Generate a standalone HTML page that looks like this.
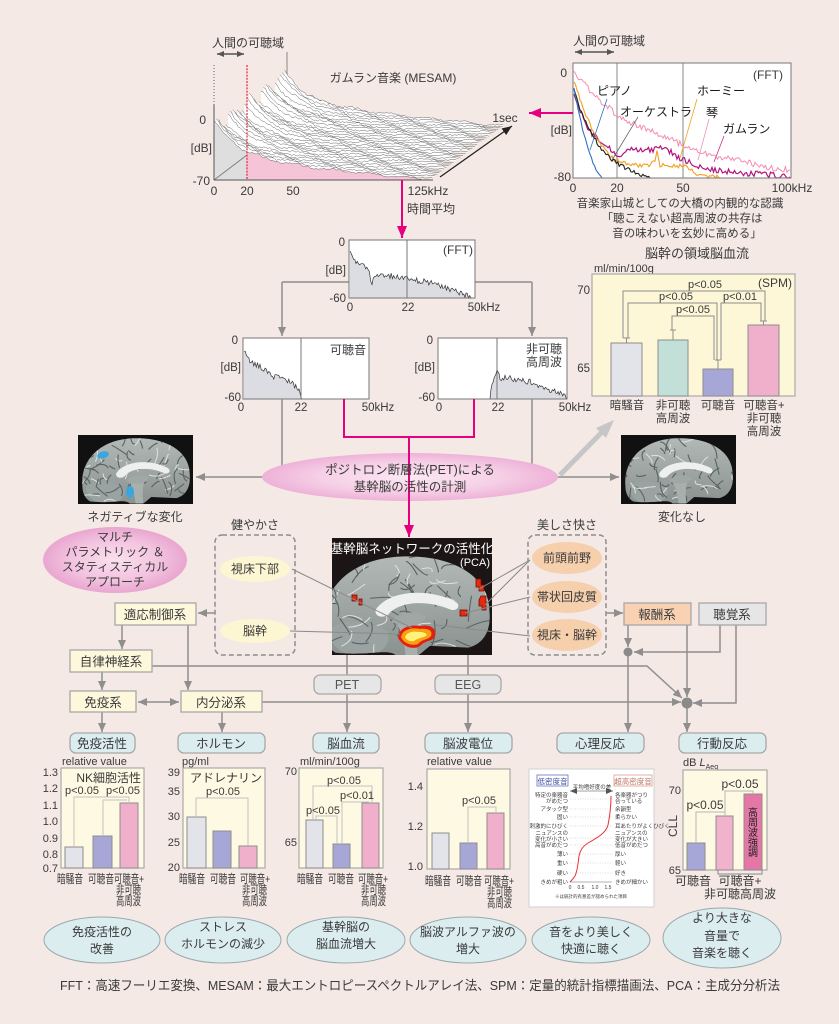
<!DOCTYPE html>
<html><head><meta charset="utf-8">
<style>
html,body{margin:0;padding:0;background:#f4e9e5;}
svg{display:block;font-family:"Liberation Sans","Noto Sans CJK JP",sans-serif;}
text{fill:#3a3a3a;}
</style></head><body>
<svg id="s" width="839" height="1024" viewBox="0 0 839 1024" xmlns="http://www.w3.org/2000/svg">
<defs>
<marker id="ag" markerUnits="userSpaceOnUse" markerWidth="9" markerHeight="8" refX="9" refY="4" orient="auto-start-reverse"><path d="M0,0 L9,4 L0,8 Z" fill="#8e8e8e"/></marker>
<marker id="ad" markerUnits="userSpaceOnUse" markerWidth="7" markerHeight="6" refX="7" refY="3" orient="auto-start-reverse"><path d="M0,0 L7,3 L0,6 Z" fill="#555"/></marker>
<marker id="ak" markerUnits="userSpaceOnUse" markerWidth="10" markerHeight="8" refX="10" refY="4" orient="auto"><path d="M0,0 L10,4 L0,8 Z" fill="#222"/></marker>
<marker id="am" markerUnits="userSpaceOnUse" markerWidth="12" markerHeight="10" refX="12" refY="5" orient="auto"><path d="M0,0 L12,5 L0,10 Z" fill="#e4007f"/></marker>
<radialGradient id="pk" cx="50%" cy="50%" r="50%"><stop offset="0" stop-color="#fbe8f2"/><stop offset="0.6" stop-color="#f6d0e6"/><stop offset="1" stop-color="#eeb2d8"/></radialGradient>
<radialGradient id="pk2" cx="50%" cy="50%" r="50%"><stop offset="0" stop-color="#fae0ee"/><stop offset="0.6" stop-color="#f3c4e0"/><stop offset="1" stop-color="#e9a6d0"/></radialGradient>
<linearGradient id="bg" x1="0" y1="0" x2="0" y2="1"><stop offset="0" stop-color="#b3bab8"/><stop offset="1" stop-color="#8a9290"/></linearGradient>
<clipPath id="bclip"><path d="M3,44 C1,22 18,3 48,2 C78,1 98,14 98,34 C99,46 94,53 86,55 L64,54 C60,57 58,60 55,60 L45,60 C41,55 30,60 10,58 C5,55 3,50 3,44 Z"/></clipPath>
<clipPath id="cclip"><rect x="332" y="538" width="160" height="117"/></clipPath>
</defs>

<!-- ============ MESAM waterfall ============ -->
<text x="212" y="47" font-size="12">人間の可聴域</text>
<line x1="217" y1="54" x2="244" y2="54" stroke="#555" stroke-width="1.5" marker-start="url(#ad)" marker-end="url(#ad)"/>
<text x="393" y="82" font-size="12" text-anchor="middle">ガムラン音楽  (MESAM)</text>
<line x1="287" y1="52" x2="287" y2="124" stroke="#888" stroke-width="1"/>
<line x1="214" y1="65" x2="214" y2="128" stroke="#666" stroke-width="1" stroke-dasharray="1,2"/>
<line x1="287" y1="126" x2="503" y2="126" stroke="#777" stroke-width="0.8"/>
<g id="wf"></g>
<line x1="247" y1="65" x2="247" y2="180" stroke="#e83048" stroke-width="1.3" stroke-dasharray="2,1.2"/>
<line x1="214" y1="180" x2="247" y2="155" stroke="#777" stroke-width="0.8"/>
<line x1="214" y1="105" x2="214" y2="180" stroke="#555" stroke-width="1"/>
<line x1="214" y1="180" x2="433" y2="180" stroke="#555" stroke-width="1"/>
<line x1="440" y1="177" x2="512" y2="126" stroke="#222" stroke-width="1.3" marker-end="url(#ak)"/>
<text x="206" y="124" font-size="12" text-anchor="end">0</text>
<text x="212" y="152" font-size="12" text-anchor="end">[dB]</text>
<text x="210" y="185" font-size="12" text-anchor="end">-70</text>
<text x="214" y="195" font-size="12" text-anchor="middle">0</text>
<text x="247" y="195" font-size="12" text-anchor="middle">20</text>
<text x="293" y="195" font-size="12" text-anchor="middle">50</text>
<text x="428" y="195" font-size="12" text-anchor="middle">125kHz</text>
<text x="505" y="122" font-size="12" text-anchor="middle">1sec</text>
<line x1="402" y1="180" x2="402" y2="238" stroke="#e4007f" stroke-width="2" marker-end="url(#am)"/>
<text x="407" y="213" font-size="12">時間平均</text>

<!-- ============ top right FFT ============ -->
<text x="573" y="45" font-size="12">人間の可聴域</text>
<line x1="575" y1="52" x2="614" y2="52" stroke="#555" stroke-width="1.5" marker-start="url(#ad)" marker-end="url(#ad)"/>
<rect x="573" y="63" width="218" height="115" fill="#fff" stroke="#777" stroke-width="1"/>
<line x1="617" y1="63" x2="617" y2="178" stroke="#888" stroke-width="1"/>
<line x1="683" y1="63" x2="683" y2="178" stroke="#888" stroke-width="1"/>
<g id="fftc"></g>
<rect x="573" y="63" width="218" height="115" fill="none" stroke="#777" stroke-width="1"/>
<text x="783" y="79" font-size="12" text-anchor="end">(FFT)</text>
<line x1="607" y1="99" x2="590" y2="150" stroke="#3070c0" stroke-width="0.8"/>
<line x1="638" y1="117" x2="612" y2="160" stroke="#666" stroke-width="0.8"/>
<line x1="697" y1="99" x2="680" y2="158" stroke="#f0a020" stroke-width="0.8"/>
<line x1="709" y1="119" x2="698" y2="160" stroke="#f090b8" stroke-width="0.8"/>
<line x1="724" y1="136" x2="714" y2="162" stroke="#d0308a" stroke-width="0.8"/>
<text x="597" y="95" font-size="12" style="fill:#1a1a1a">ピアノ</text>
<text x="620" y="116" font-size="12" style="fill:#1a1a1a">オーケストラ</text>
<text x="697" y="95" font-size="12" style="fill:#1a1a1a">ホーミー</text>
<text x="706" y="117" font-size="12" style="fill:#1a1a1a">琴</text>
<text x="723" y="133" font-size="12" style="fill:#1a1a1a">ガムラン</text>
<text x="567" y="77" font-size="12" text-anchor="end">0</text>
<text x="572" y="134" font-size="12" text-anchor="end">[dB]</text>
<text x="571" y="181" font-size="12" text-anchor="end">-80</text>
<text x="573" y="192" font-size="12" text-anchor="middle">0</text>
<text x="617" y="192" font-size="12" text-anchor="middle">20</text>
<text x="683" y="192" font-size="12" text-anchor="middle">50</text>
<text x="792" y="192" font-size="12" text-anchor="middle">100kHz</text>
<line x1="573" y1="113" x2="529" y2="113" stroke="#e4007f" stroke-width="2" marker-end="url(#am)"/>
<text x="680" y="207" font-size="11.5" text-anchor="middle">音楽家山城としての大橋の内観的な認識</text>
<text x="682" y="222" font-size="11.5" text-anchor="middle">「聴こえない超高周波の共存は</text>
<text x="687" y="237" font-size="11.5" text-anchor="middle">音の味わいを玄妙に高める」</text>

<!-- ============ middle FFT ============ -->
<line x1="349" y1="282" x2="282" y2="282" stroke="#8e8e8e" stroke-width="1.5"/>
<line x1="282" y1="282" x2="282" y2="336" stroke="#8e8e8e" stroke-width="1.5" marker-end="url(#ag)"/>
<line x1="475" y1="282" x2="532" y2="282" stroke="#8e8e8e" stroke-width="1.5"/>
<line x1="532" y1="282" x2="532" y2="336" stroke="#8e8e8e" stroke-width="1.5" marker-end="url(#ag)"/>
<rect x="349" y="240" width="126" height="58" fill="#fff" stroke="#777"/>
<g id="fm"></g>
<line x1="407" y1="240" x2="407" y2="298" stroke="#777"/>
<rect x="349" y="240" width="126" height="58" fill="none" stroke="#777"/>
<text x="473" y="254" font-size="12" text-anchor="end">(FFT)</text>
<text x="345" y="246" font-size="11.5" text-anchor="end">0</text>
<text x="346" y="274" font-size="11.5" text-anchor="end">[dB]</text>
<text x="346" y="302" font-size="11.5" text-anchor="end">-60</text>
<text x="350" y="311" font-size="11.5" text-anchor="middle">0</text>
<text x="408" y="311" font-size="11.5" text-anchor="middle">22</text>
<text x="484" y="311" font-size="11.5" text-anchor="middle">50kHz</text>

<!-- small left -->
<rect x="243" y="338" width="126" height="61" fill="#fff" stroke="#777"/>
<g id="fl"></g>
<line x1="301" y1="338" x2="301" y2="399" stroke="#777"/>
<rect x="243" y="338" width="126" height="61" fill="none" stroke="#777"/>
<text x="366" y="354" font-size="12" text-anchor="end">可聴音</text>
<text x="238" y="344" font-size="11.5" text-anchor="end">0</text>
<text x="241" y="371" font-size="11.5" text-anchor="end">[dB]</text>
<text x="241" y="401" font-size="11.5" text-anchor="end">-60</text>
<text x="241" y="411" font-size="11.5" text-anchor="middle">0</text>
<text x="301" y="411" font-size="11.5" text-anchor="middle">22</text>
<text x="378" y="411" font-size="11.5" text-anchor="middle">50kHz</text>
<!-- small right -->
<rect x="438" y="338" width="129" height="61" fill="#fff" stroke="#777"/>
<g id="fr"></g>
<line x1="497" y1="338" x2="497" y2="399" stroke="#777"/>
<rect x="438" y="338" width="129" height="61" fill="none" stroke="#777"/>
<text x="562" y="353" font-size="12" text-anchor="end">非可聴</text>
<text x="562" y="366" font-size="12" text-anchor="end">高周波</text>
<text x="433" y="344" font-size="11.5" text-anchor="end">0</text>
<text x="435" y="371" font-size="11.5" text-anchor="end">[dB]</text>
<text x="435" y="401" font-size="11.5" text-anchor="end">-60</text>
<text x="439" y="411" font-size="11.5" text-anchor="middle">0</text>
<text x="498" y="411" font-size="11.5" text-anchor="middle">22</text>
<text x="575" y="411" font-size="11.5" text-anchor="middle">50kHz</text>

<!-- ============ SPM chart ============ -->
<text x="697" y="258" font-size="13" text-anchor="middle">脳幹の領域脳血流</text>
<text x="594" y="272" font-size="11">ml/min/100g</text>
<rect x="592" y="274" width="203" height="122" fill="#fdf7d8" stroke="#aaa" stroke-width="1.2"/>
<text x="590" y="294" font-size="11.5" text-anchor="end">70</text>
<text x="590" y="372" font-size="11.5" text-anchor="end">65</text>
<text x="792" y="287" font-size="12" text-anchor="end">(SPM)</text>
<rect x="611" y="343" width="31" height="53" fill="#e3e3ea" stroke="#8e8e8e"/>
<rect x="658" y="340" width="30" height="56" fill="#c2e0d8" stroke="#8e8e8e"/>
<rect x="703" y="369" width="30" height="27" fill="#a7a7d7" stroke="#8e8e8e"/>
<rect x="748" y="325" width="31" height="71" fill="#f0b0cc" stroke="#8e8e8e"/>
<g stroke="#8e8e8e" stroke-width="1" fill="none">
<path d="M626.5,343 V338 M623,338 H630"/>
<path d="M673,340 V330 M670,330 H676"/>
<path d="M718,369 V360 M715,360 H721"/>
<path d="M763.5,325 V321 M760,321 H767"/>
<path d="M623,338 V291 H765 V321"/>
<path d="M628,338 V303 H717 V360"/>
<path d="M721,360 V303 H761 V321"/>
<path d="M672,330 V316 H714 V360"/>
</g>
<text x="705" y="288" font-size="11" text-anchor="middle">p&lt;0.05</text>
<text x="676" y="300" font-size="11" text-anchor="middle">p&lt;0.05</text>
<text x="740" y="300" font-size="11" text-anchor="middle">p&lt;0.01</text>
<text x="693" y="313" font-size="11" text-anchor="middle">p&lt;0.05</text>
<text x="627" y="409" font-size="11.5" text-anchor="middle">暗騒音</text>
<text x="673" y="409" font-size="11.5" text-anchor="middle">非可聴</text>
<text x="673" y="422" font-size="11.5" text-anchor="middle">高周波</text>
<text x="718" y="409" font-size="11.5" text-anchor="middle">可聴音</text>
<text x="764" y="409" font-size="11.5" text-anchor="middle">可聴音+</text>
<text x="764" y="422" font-size="11.5" text-anchor="middle">非可聴</text>
<text x="764" y="435" font-size="11.5" text-anchor="middle">高周波</text>

<!-- ============ PET section ============ -->
<path d="M282,399 V477 H196" fill="none" stroke="#8e8e8e" stroke-width="1.5" marker-end="url(#ag)"/>
<path d="M532,399 V477 H619" fill="none" stroke="#8e8e8e" stroke-width="1.5" marker-end="url(#ag)"/>
<ellipse cx="410" cy="477" rx="148" ry="24" fill="url(#pk)"/>
<path d="M344,399 V437 H474 V399" fill="none" stroke="#e4007f" stroke-width="2"/>
<line x1="409" y1="437" x2="409" y2="537" stroke="#e4007f" stroke-width="2" marker-end="url(#am)"/>
<text x="410" y="474" font-size="12.5" text-anchor="middle">ポジトロン断層法(PET)による</text>
<text x="410" y="491" font-size="12.5" text-anchor="middle">基幹脳の活性の計測</text>
<line x1="560" y1="475" x2="604" y2="430" stroke="#c6c6c6" stroke-width="5"/>
<path d="M614,420 L596,428 L606,438 Z" fill="#c6c6c6"/>

<!-- brains -->
<rect x="78" y="435" width="115" height="69" fill="#111"/>
<g transform="translate(79,436) scale(1.13)"><g clip-path="url(#bclip)" id="b1"></g></g>
<ellipse cx="103" cy="455" rx="6" ry="3.5" fill="#3aa6e0" transform="rotate(-15 103 455)"/>
<ellipse cx="130" cy="492" rx="4" ry="6" fill="#3aa6e0"/>
<text x="135" y="521" font-size="12" text-anchor="middle">ネガティブな変化</text>

<rect x="621" y="435" width="115" height="69" fill="#111"/>
<g transform="translate(622,436) scale(1.13)"><g clip-path="url(#bclip)" id="b2"></g></g>
<text x="682" y="521" font-size="12" text-anchor="middle">変化なし</text>

<rect x="332" y="538" width="160" height="117" fill="#1c1515"/>
<g clip-path="url(#cclip)"><g transform="translate(318,553) scale(1.75,1.72)"><g clip-path="url(#bclip)" id="b3"></g></g></g>
<text x="412" y="553" font-size="12.5" text-anchor="middle" style="fill:#fff">基幹脳ネットワークの活性化</text>
<text x="490" y="566" font-size="11" text-anchor="end" style="fill:#fff">(PCA)</text>
<g fill="#e52a12" stroke="#7a0a00" stroke-width="0.8">
<rect x="352" y="595" width="5" height="6"/>
<rect x="359" y="599" width="3" height="6"/>
<path d="M476,579 h5 v6 h3 v6 h-5 v-4 h-3z"/>
<path d="M481,596 h5 v14 h-4 v-4 h-3 v-6z"/>
<rect x="460" y="610" width="7" height="6"/>
</g>
<path d="M398,638 C398,628 410,624 420,626 C430,624 437,628 435,636 C433,642 425,640 420,646 C414,650 404,648 398,638 Z" fill="#e02010"/>
<path d="M401,637 C402,630 411,627 420,629 C429,628 433,631 431,636 C428,640 422,639 418,644 C412,646 404,644 401,637 Z" fill="#f8a010"/>
<path d="M405,637 C407,632 413,631 419,632 C425,632 428,634 426,636 C422,638 418,638 414,641 C410,642 406,640 405,637 Z" fill="#fff27a"/>

<!-- ellipse-brain lines -->
<g stroke="#8a8a8a" stroke-width="1">
<line x1="292" y1="569" x2="412" y2="628"/>
<line x1="290" y1="631" x2="400" y2="634"/>
<line x1="530" y1="560" x2="479" y2="589"/>
<line x1="530" y1="560" x2="485" y2="605"/>
<line x1="530" y1="597" x2="465" y2="613"/>
<line x1="530" y1="636" x2="436" y2="625"/>
</g>

<!-- multi ellipse -->
<ellipse cx="115" cy="560" rx="72" ry="33" fill="url(#pk2)"/>
<text x="115" y="541" font-size="12" text-anchor="middle">マルチ</text>
<text x="115" y="556" font-size="12" text-anchor="middle">パラメトリック ＆</text>
<text x="115" y="571" font-size="12" text-anchor="middle">スタティスティカル</text>
<text x="115" y="586" font-size="12" text-anchor="middle">アプローチ</text>

<!-- dashed groups -->
<text x="255" y="529" font-size="12" text-anchor="middle">健やかさ</text>
<rect x="215" y="535" width="80" height="120" rx="7" fill="none" stroke="#8e8e8e" stroke-width="1.5" stroke-dasharray="5,3"/>
<ellipse cx="255" cy="569" rx="35" ry="13" fill="#fdf6d2"/>
<text x="255" y="573" font-size="12" text-anchor="middle">視床下部</text>
<ellipse cx="255" cy="631" rx="35" ry="12" fill="#fdf6d2"/>
<text x="255" y="635" font-size="12" text-anchor="middle">脳幹</text>

<text x="567" y="529" font-size="12" text-anchor="middle">美しさ快さ</text>
<rect x="528" y="535" width="78" height="120" rx="7" fill="none" stroke="#8e8e8e" stroke-width="1.5" stroke-dasharray="5,3"/>
<ellipse cx="567" cy="558" rx="35" ry="16" fill="#f6cfad"/>
<text x="567" y="562" font-size="12" text-anchor="middle">前頭前野</text>
<ellipse cx="567" cy="597" rx="35" ry="16" fill="#f6cfad"/>
<text x="567" y="601" font-size="12" text-anchor="middle">帯状回皮質</text>
<ellipse cx="567" cy="635" rx="35" ry="16" fill="#f6cfad"/>
<text x="567" y="639" font-size="12" text-anchor="middle">視床・脳幹</text>

<!-- ============ system connectors ============ -->
<g fill="none" stroke="#8e8e8e" stroke-width="1.5">
<line x1="215" y1="613" x2="198" y2="613" marker-end="url(#ag)"/>
<line x1="122" y1="625" x2="122" y2="649" marker-end="url(#ag)"/>
<line x1="188" y1="625" x2="188" y2="690" marker-end="url(#ag)"/>
<line x1="102" y1="672" x2="102" y2="690" marker-end="url(#ag)"/>
<path d="M152,666 H647 L682,698" marker-end="url(#ag)"/>
<line x1="138" y1="702" x2="179" y2="702" marker-start="url(#ag)" marker-end="url(#ag)"/>
<line x1="102" y1="712" x2="102" y2="732" marker-end="url(#ag)"/>
<line x1="222" y1="712" x2="222" y2="732" marker-end="url(#ag)"/>
<line x1="262" y1="702" x2="681" y2="702" marker-end="url(#ag)"/>
<line x1="347" y1="655" x2="347" y2="732" marker-end="url(#ag)"/>
<line x1="468" y1="655" x2="468" y2="732" marker-end="url(#ag)"/>
<line x1="628" y1="625" x2="628" y2="647" marker-end="url(#ag)"/>
<line x1="628" y1="652" x2="628" y2="732" marker-end="url(#ag)"/>
<line x1="687" y1="625" x2="687" y2="697" marker-end="url(#ag)"/>
<path d="M720,625 V652 H634" marker-end="url(#ag)"/>
<path d="M736,625 V703 H693" marker-end="url(#ag)"/>
<line x1="687" y1="703" x2="687" y2="732" marker-end="url(#ag)"/>
<line x1="606" y1="613" x2="623" y2="613" marker-end="url(#ag)"/>
</g>
<circle cx="628" cy="652" r="4.5" fill="#8a8a8a"/>
<circle cx="687" cy="703" r="5.5" fill="#8a8a8a"/>

<!-- boxes -->
<g stroke="#a8a8a8" stroke-width="1.3">
<rect x="115" y="603" width="81" height="22" fill="#fdf8dc"/>
<rect x="70" y="650" width="82" height="22" fill="#fdf8dc"/>
<rect x="70" y="691" width="66" height="21" fill="#fdf8dc"/>
<rect x="181" y="691" width="81" height="21" fill="#fdf8dc"/>
<rect x="624" y="603" width="67" height="22" fill="#f8d2b2"/>
<rect x="699" y="603" width="67" height="22" fill="#e6e6e6"/>
<rect x="314" y="675" width="67" height="19" rx="6" fill="#e6e6e6"/>
<rect x="435" y="675" width="66" height="19" rx="6" fill="#e6e6e6"/>
<rect x="70" y="733" width="65" height="20" rx="6" fill="#dcedf0"/>
<rect x="178" y="733" width="87" height="20" rx="6" fill="#dcedf0"/>
<rect x="313" y="733" width="66" height="20" rx="6" fill="#dcedf0"/>
<rect x="425" y="733" width="87" height="20" rx="6" fill="#dcedf0"/>
<rect x="557" y="733" width="87" height="20" rx="6" fill="#dcedf0"/>
<rect x="679" y="733" width="87" height="20" rx="6" fill="#dcedf0"/>
</g>
<g font-size="12.5" text-anchor="middle">
<text x="155" y="619">適応制御系</text>
<text x="111" y="666">自律神経系</text>
<text x="103" y="707">免疫系</text>
<text x="221" y="707">内分泌系</text>
<text x="657" y="619">報酬系</text>
<text x="732" y="619">聴覚系</text>
<text x="347" y="689" style="fill:#555">PET</text>
<text x="468" y="689" style="fill:#555">EEG</text>
<text x="102" y="748">免疫活性</text>
<text x="221" y="748">ホルモン</text>
<text x="346" y="748">脳血流</text>
<text x="468" y="748">脳波電位</text>
<text x="600" y="748">心理反応</text>
<text x="722" y="748">行動反応</text>
</g>

<!-- ============ bottom charts ============ -->
<g font-size="11">
<!-- chart1 -->
<text x="62" y="765">relative value</text>
<rect x="61" y="768" width="83" height="100" fill="#fdf9e3" stroke="#aaa" stroke-width="1.2"/>
<g text-anchor="end"><text x="58" y="776">1.3</text><text x="58" y="792">1.2</text><text x="58" y="809">1.1</text><text x="58" y="825">1.0</text><text x="58" y="842">0.9</text><text x="58" y="858">0.8</text><text x="58" y="872">0.7</text></g>
<text x="141" y="782" font-size="12" text-anchor="end">NK細胞活性</text>
<rect x="65" y="847" width="18" height="21" fill="#e3e3ea" stroke="#8e8e8e"/>
<rect x="93" y="836" width="19" height="32" fill="#a7a7d7" stroke="#8e8e8e"/>
<rect x="120" y="803" width="18" height="65" fill="#f0b0cc" stroke="#8e8e8e"/>
<path d="M74,847 V797 H129 V803 M103,836 V800 H127" fill="none" stroke="#c2c2c2"/>
<text x="82" y="794" text-anchor="middle">p&lt;0.05</text>
<text x="123" y="794" text-anchor="middle">p&lt;0.05</text>
<g font-size="12">
<text x="57" y="883" textLength="26" lengthAdjust="spacingAndGlyphs">暗騒音</text>
<text x="88" y="883" textLength="26" lengthAdjust="spacingAndGlyphs">可聴音</text>
<text x="114" y="883" textLength="30" lengthAdjust="spacingAndGlyphs">可聴音+</text>
<text x="116" y="894" textLength="25" lengthAdjust="spacingAndGlyphs">非可聴</text>
<text x="116" y="905" textLength="25" lengthAdjust="spacingAndGlyphs">高周波</text>
</g>

<!-- chart2 -->
<text x="182" y="765">pg/ml</text>
<rect x="183" y="768" width="82" height="100" fill="#fdf9e3" stroke="#aaa" stroke-width="1.2"/>
<g text-anchor="end"><text x="180" y="776">39</text><text x="180" y="795">35</text><text x="180" y="820">30</text><text x="180" y="846">25</text><text x="180" y="871">20</text></g>
<text x="262" y="782" font-size="12" text-anchor="end">アドレナリン</text>
<rect x="187" y="817" width="19" height="51" fill="#e3e3ea" stroke="#8e8e8e"/>
<rect x="213" y="831" width="18" height="37" fill="#a7a7d7" stroke="#8e8e8e"/>
<rect x="239" y="846" width="18" height="22" fill="#f0b0cc" stroke="#8e8e8e"/>
<path d="M196,817 V798 H248 V846" fill="none" stroke="#c2c2c2"/>
<text x="223" y="795" text-anchor="middle">p&lt;0.05</text>
<g font-size="12">
<text x="179" y="883" textLength="26" lengthAdjust="spacingAndGlyphs">暗騒音</text>
<text x="210" y="883" textLength="26" lengthAdjust="spacingAndGlyphs">可聴音</text>
<text x="240" y="883" textLength="30" lengthAdjust="spacingAndGlyphs">可聴音+</text>
<text x="242" y="894" textLength="25" lengthAdjust="spacingAndGlyphs">非可聴</text>
<text x="242" y="905" textLength="25" lengthAdjust="spacingAndGlyphs">高周波</text>
</g>

<!-- chart3 -->
<text x="300" y="765">ml/min/100g</text>
<rect x="299" y="768" width="84" height="100" fill="#fdf9e3" stroke="#aaa" stroke-width="1.2"/>
<g text-anchor="end"><text x="297" y="775">70</text><text x="297" y="846">65</text></g>
<rect x="306" y="820" width="17" height="48" fill="#e3e3ea" stroke="#8e8e8e"/>
<rect x="333" y="844" width="17" height="24" fill="#a7a7d7" stroke="#8e8e8e"/>
<rect x="362" y="803" width="17" height="65" fill="#f0b0cc" stroke="#8e8e8e"/>
<path d="M313,820 V786 H372 V803 M342,844 V802 H369 V803 M316,820 V816 H337 V844" fill="none" stroke="#c2c2c2"/>
<text x="344" y="784" text-anchor="middle">p&lt;0.05</text>
<text x="357" y="799" text-anchor="middle">p&lt;0.01</text>
<text x="323" y="814" text-anchor="middle">p&lt;0.05</text>
<g font-size="12">
<text x="297" y="883" textLength="26" lengthAdjust="spacingAndGlyphs">暗騒音</text>
<text x="328" y="883" textLength="26" lengthAdjust="spacingAndGlyphs">可聴音</text>
<text x="358" y="883" textLength="30" lengthAdjust="spacingAndGlyphs">可聴音+</text>
<text x="361" y="894" textLength="25" lengthAdjust="spacingAndGlyphs">非可聴</text>
<text x="361" y="905" textLength="25" lengthAdjust="spacingAndGlyphs">高周波</text>
</g>

<!-- chart4 -->
<text x="427" y="765">relative value</text>
<rect x="427" y="769" width="83" height="100" fill="#fdf9e3" stroke="#aaa" stroke-width="1.2"/>
<g text-anchor="end"><text x="423" y="790">1.4</text><text x="423" y="830">1.2</text><text x="423" y="870">1.0</text></g>
<rect x="432" y="833" width="17" height="36" fill="#e3e3ea" stroke="#8e8e8e"/>
<rect x="460" y="843" width="17" height="26" fill="#a7a7d7" stroke="#8e8e8e"/>
<rect x="487" y="813" width="17" height="56" fill="#f0b0cc" stroke="#8e8e8e"/>
<path d="M468,843 V807 H496 V813" fill="none" stroke="#c2c2c2"/>
<text x="479" y="804" text-anchor="middle">p&lt;0.05</text>
<g font-size="12">
<text x="425" y="885" textLength="26" lengthAdjust="spacingAndGlyphs">暗騒音</text>
<text x="456" y="885" textLength="26" lengthAdjust="spacingAndGlyphs">可聴音</text>
<text x="484" y="885" textLength="30" lengthAdjust="spacingAndGlyphs">可聴音+</text>
<text x="487" y="896" textLength="25" lengthAdjust="spacingAndGlyphs">非可聴</text>
<text x="487" y="907" textLength="25" lengthAdjust="spacingAndGlyphs">高周波</text>
</g>

<!-- chart6 -->
<text x="683" y="766">dB <tspan font-style="italic">L</tspan><tspan font-size="7" dy="3">Aeq</tspan></text>
<rect x="683" y="770" width="84" height="100" fill="#fdf9e3" stroke="#aaa" stroke-width="1.2"/>
<g text-anchor="end"><text x="681" y="794">70</text><text x="681" y="874">65</text></g>
<text x="0" y="0" font-size="12" text-anchor="middle" transform="translate(677,826) rotate(-90)">CLL</text>
<rect x="687" y="843" width="18" height="27" fill="#a7a7d7" stroke="#8e8e8e"/>
<rect x="716" y="816" width="17" height="54" fill="#f0b2cc" stroke="#8e8e8e"/>
<rect x="744" y="794" width="18" height="76" fill="#e477a6" stroke="#8e8e8e"/>
<g font-size="10" text-anchor="middle"><text x="753" y="816" style="fill:#222">高</text><text x="753" y="826" style="fill:#222">周</text><text x="753" y="836" style="fill:#222">波</text><text x="753" y="846" style="fill:#222">強</text><text x="753" y="856" style="fill:#222">調</text></g>
<path d="M696,843 V812 H725 V816 M725,816 V791 H753 V794" fill="none" stroke="#b8b8b8"/>
<text x="705" y="809" font-size="12" text-anchor="middle">p&lt;0.05</text>
<text x="740" y="788" font-size="12" text-anchor="middle">p&lt;0.05</text>
<path d="M718,870 V874 H762 V870 M740,874 V877" fill="none" stroke="#888"/>
<text x="693" y="885" font-size="12" text-anchor="middle">可聴音</text>
<text x="740" y="885" font-size="12" text-anchor="middle">可聴音+</text>
<text x="740" y="898" font-size="12" text-anchor="middle">非可聴高周波</text>
</g>

<!-- chart5 psych -->
<rect x="529" y="769" width="125" height="138" fill="#fff" stroke="#d0d0d0"/>
<rect x="537" y="775" width="31" height="11" fill="none" stroke="#5060b0" stroke-width="0.7"/>
<text x="552.5" y="784" font-size="7.5" text-anchor="middle" style="fill:#3a4aa0">低密度音</text>
<rect x="614" y="775" width="38" height="11" fill="none" stroke="#d09080" stroke-width="0.7"/>
<text x="633" y="784" font-size="7.5" text-anchor="middle" style="fill:#c07060">超高密度音</text>
<line x1="570" y1="791" x2="613" y2="791" stroke="#444" stroke-width="0.6" marker-start="url(#ad)" marker-end="url(#ad)"/>
<text x="592" y="789" font-size="5.5" text-anchor="middle">平均嗜好度の差</text>
<g font-size="5.5">
<text x="568" y="797" text-anchor="end">特定の楽器音</text><text x="568" y="803" text-anchor="end">がめだつ</text>
<text x="568" y="811" text-anchor="end">アタック型</text>
<text x="568" y="819" text-anchor="end">固い</text>
<text x="568" y="828" text-anchor="end">刺激的にひびく</text>
<text x="568" y="835" text-anchor="end">ニュアンスの</text><text x="568" y="841" text-anchor="end">変化が小さい</text>
<text x="568" y="847" text-anchor="end">高音がめだつ</text>
<text x="568" y="856" text-anchor="end">薄い</text>
<text x="568" y="865" text-anchor="end">重い</text>
<text x="568" y="875" text-anchor="end">硬い</text>
<text x="568" y="884" text-anchor="end">きめが粗い</text>
<text x="615" y="797">各楽器がつり</text><text x="615" y="803">合っている</text>
<text x="615" y="811">余韻型</text>
<text x="615" y="819">柔らかい</text>
<text x="615" y="828">耳あたりがよくひびく</text>
<text x="615" y="835">ニュアンスの</text><text x="615" y="841">変化が大きい</text>
<text x="615" y="847">低音がめだつ</text>
<text x="615" y="856">厚い</text>
<text x="615" y="865">軽い</text>
<text x="615" y="875">好き</text>
<text x="615" y="884">きめが細かい</text>
</g>
<g stroke="#bbb" stroke-width="0.5" stroke-dasharray="1,1.5">
<line x1="570" y1="799" x2="613" y2="799"/><line x1="570" y1="809" x2="613" y2="809"/><line x1="570" y1="817" x2="613" y2="817"/><line x1="570" y1="826" x2="613" y2="826"/><line x1="570" y1="838" x2="613" y2="838"/><line x1="570" y1="845" x2="613" y2="845"/><line x1="570" y1="854" x2="613" y2="854"/><line x1="570" y1="863" x2="613" y2="863"/><line x1="570" y1="873" x2="613" y2="873"/>
</g>
<line x1="570" y1="882" x2="612" y2="882" stroke="#666" stroke-width="0.6"/>
<path d="M611,796 C611,805 610,815 608,825 C606,833 597,838 588,843 C582,847 580,851 579,856 C578,865 577,872 575,876 C573,879 571,881 570,882" fill="none" stroke="#e83030" stroke-width="1"/>
<g font-size="5" text-anchor="middle"><text x="570" y="889">0</text><text x="581" y="889">0.5</text><text x="595" y="889">1.0</text><text x="608" y="889">1.5</text></g>
<text x="591" y="898" font-size="4.5" text-anchor="middle">※は統計的有意差が認められた項目</text>

<!-- bottom ellipses -->
<g fill="#dcedf0" stroke="#9aa8ac" stroke-width="1">
<ellipse cx="102" cy="940" rx="58" ry="23"/>
<ellipse cx="223" cy="940" rx="58" ry="23"/>
<ellipse cx="346" cy="940" rx="59" ry="23"/>
<ellipse cx="468" cy="940" rx="58" ry="23"/>
<ellipse cx="591" cy="940" rx="59" ry="23"/>
<ellipse cx="722" cy="938" rx="59" ry="30"/>
</g>
<g font-size="12" text-anchor="middle">
<text x="102" y="936">免疫活性の</text><text x="102" y="953">改善</text>
<text x="223" y="931">ストレス</text><text x="223" y="948">ホルモンの減少</text>
<text x="346" y="931">基幹脳の</text><text x="346" y="948">脳血流増大</text>
<text x="468" y="936">脳波アルファ波の</text><text x="468" y="953">増大</text>
<text x="591" y="936">音をより美しく</text><text x="591" y="953">快適に聴く</text>
<text x="722" y="922">より大きな</text><text x="722" y="940">音量で</text><text x="722" y="957">音楽を聴く</text>
</g>
<text x="60" y="990" font-size="13" textLength="720" lengthAdjust="spacingAndGlyphs">FFT：高速フーリエ変換、MESAM：最大エントロピースペクトルアレイ法、SPM：定量的統計指標描画法、PCA：主成分分析法</text>
</svg>
<script>
(function(){
const NS='http://www.w3.org/2000/svg';
function mk(tag,a,p){const e=document.createElementNS(NS,tag);for(const k in a)e.setAttribute(k,a[k]);p.appendChild(e);return e;}
let seed=12345;function R(){seed=(seed*16807)%2147483647;return seed/2147483647;}
function ps(p){return p.map(q=>q[0].toFixed(1)+','+q[1].toFixed(1)).join(' ');}
// waterfall
const wf=document.getElementById('wf');
const N=32;
for(let i=N-1;i>=0;i--){
  const x0=214+i*73/(N-1), yb=180-i*54/(N-1);
  const A=28+6*Math.sin(i*0.9+1)+R()*5;
  const pts=[];
  for(let k=0;k<=108;k++){
    const t=k/108,x=x0+t*216;
    let h=A*Math.exp(-t/0.12)+22*(1-t)+(R()-0.5)*2.4*(1-0.5*t)+1.0*Math.sin(t*37+i*1.3);
    if(h<0.3)h=0.3;
    pts.push([x,yb-h]);
  }
  const poly=[[x0,yb]].concat(pts,[[x0+216,yb]]);
  if(i===0){
    mk('polygon',{points:ps(poly),fill:'#f5c4d7'},wf);
    const gp=[[214,180]].concat(pts.filter(p=>p[0]<=247),[[247,180]]);
    mk('polygon',{points:ps(gp),fill:'#dedede'},wf);
  } else {
    mk('polygon',{points:ps(poly),fill:'#fff'},wf);
  }
  mk('polyline',{points:ps(pts),fill:'none',stroke:'#555','stroke-width':0.45},wf);
}
function noisy(ctrl,step,amp,ymin,ymax){
  const out=[];
  for(let s=0;s<ctrl.length-1;s++){
    const [x1,y1]=ctrl[s],[x2,y2]=ctrl[s+1];
    const n=Math.max(1,Math.round(Math.abs(x2-x1)/step));
    for(let k=0;k<n;k++){const t=k/n;let y=y1+(y2-y1)*t+(R()-0.5)*2*amp;y=Math.max(ymin,Math.min(ymax,y));out.push([x1+(x2-x1)*t,y]);}
  }
  out.push(ctrl[ctrl.length-1]);
  return out;
}
const fc=document.getElementById('fftc');
const curves=[
 ['#f58cb0',1,[[574,72],[585,85],[600,100],[617,115],[640,127],[660,135],[683,145],[710,155],[740,160],[770,168],[790,170]],3],
 ['#b0157e',1.2,[[574,95],[582,115],[592,135],[605,145],[617,155],[630,150],[650,150],[665,148],[683,160],[700,167],[730,172],[760,174],[790,177]],3],
 ['#f0a020',1.1,[[574,82],[580,100],[590,125],[600,145],[612,158],[625,163],[640,166],[655,163],[657,150],[660,166],[683,166],[695,172],[705,176],[720,178]],2.5],
 ['#222',1.1,[[574,88],[580,110],[590,130],[600,148],[612,160],[625,168],[640,175],[650,178]],2],
 ['#3070c0',1.1,[[574,88],[578,110],[584,135],[590,155],[596,170],[602,178]],1.5]
];
curves.forEach(c=>{mk('polyline',{points:ps(noisy(c[2],1.5,c[3],64,178)),fill:'none',stroke:c[0],'stroke-width':c[1]},fc);});
function filled(id,ctrl,amp,base,ymin){
  const g=document.getElementById(id);
  const p=noisy(ctrl,1.2,amp,ymin,base);
  const poly=[[ctrl[0][0],base]].concat(p,[[ctrl[ctrl.length-1][0],base]]);
  mk('polygon',{points:ps(poly),fill:'#dcdde2'},g);
  mk('polyline',{points:ps(p),fill:'none',stroke:'#333','stroke-width':0.7},g);
}
filled('fm',[[350,252],[356,262],[362,262],[368,270],[372,283],[376,274],[390,276],[407,278],[430,283],[450,289],[465,295],[473,298]],3,298,241);
filled('fl',[[244,352],[250,362],[260,366],[270,375],[280,378],[290,382],[298,388],[301,396],[303,399]],3,399,339);
filled('fr',[[490,399],[492,385],[495,375],[497,372],[500,378],[510,378],[530,382],[550,390],[565,396],[567,399]],3,399,339);
// brains
function brain(id,seedv){
  const g=document.getElementById(id);
  seed=seedv;
  mk('path',{d:'M0,0 H100 V60 H0 Z',fill:'url(#bg)'},g);
  mk('path',{d:'M6,46 C10,38 28,38 40,46 C42,53 36,59 28,60 C18,61 8,57 6,46Z',fill:'#9aa3a1'},g);
  for(let i=0;i<70;i++){
    const x=R()*100,y=R()*60,a=R()*Math.PI*2,l=5+R()*10;
    const x2=x+Math.cos(a)*l,y2=y+Math.sin(a)*l;
    const cx=(x+x2)/2+(R()-0.5)*8,cy=(y+y2)/2+(R()-0.5)*8;
    const light=i%3==0;
    mk('path',{d:`M${x.toFixed(1)},${y.toFixed(1)} Q${cx.toFixed(1)},${cy.toFixed(1)} ${x2.toFixed(1)},${y2.toFixed(1)}`,fill:'none',stroke:light?'#dde2e0':'#5a6361','stroke-width':light?1:1.1,'vector-effect':'non-scaling-stroke','stroke-linecap':'round'},g);
  }
  mk('path',{d:'M45,40 C48,48 50,55 50,60 L57,60 C56,52 56,46 58,40 Z',fill:'#a8b0ae'},g);
  mk('path',{d:'M42,40 C45,34 55,33 62,37 C60,42 50,44 42,40Z',fill:'#a0a8a6'},g);
  mk('path',{d:'M33,33 C40,22 62,20 78,28 C82,30 80,34 76,33 C62,27 46,28 40,36 C37,38 32,37 33,33 Z',fill:'#eef0ef'},g);
}
brain('b1',111);brain('b2',222);brain('b3',333);
})();
</script>
</body></html>
